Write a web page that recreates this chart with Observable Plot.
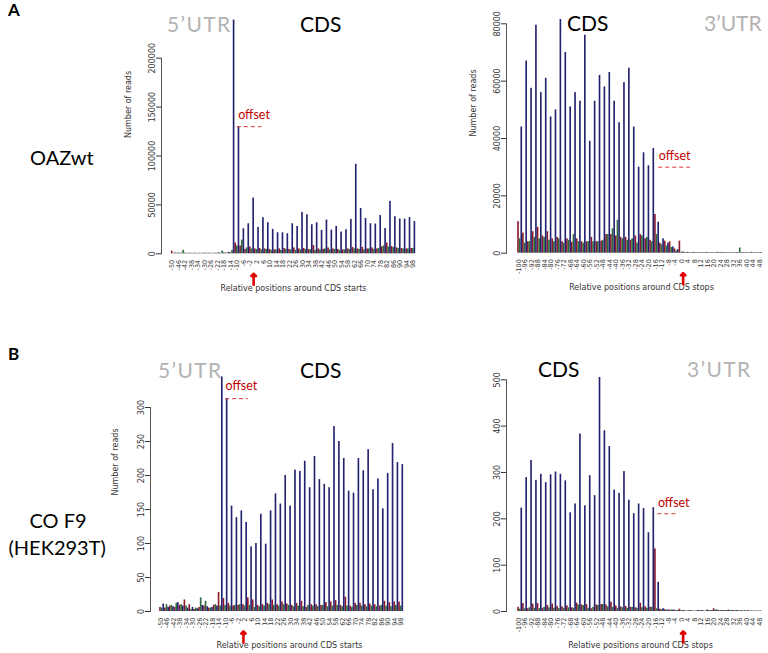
<!DOCTYPE html>
<html><head><meta charset="utf-8">
<script src="https://cdn.jsdelivr.net/npm/d3@7"></script>
<script src="https://cdn.jsdelivr.net/npm/@observablehq/plot@0.6"></script>
<style>
body{margin:0;background:#fff;}
#fig{position:relative;width:768px;height:653px;overflow:hidden;background:#fff;font-family:Lato,"Open Sans",sans-serif;}
.pan{position:absolute;}
.lbl{position:absolute;white-space:nowrap;line-height:1;}
</style></head><body><div id="fig"></div>
<script>
// ---------- tick labels ----------
const startTicks = [-50,-46,-42,-38,-34,-30,-26,-22,-18,-14,-10,-6,-2,2,6,10,14,18,22,26,30,34,38,42,46,50,54,58,62,66,70,74,78,82,86,90,94,98];
const stopTicks = [-100,-96,-92,-88,-84,-80,-76,-72,-68,-64,-60,-56,-52,-48,-44,-40,-36,-32,-28,-24,-20,-16,-12,-8,-4,0,4,8,12,16,20,24,28,32,36,40,44,48];
const oazStartYTicks = [0,50000,100000,150000,200000];
const oazStopYTicks = [0,20000,40000,60000,80000];
const cofStartYTicks = [0,50,100,150,200,250,300];
const cofStopYTicks = [0,100,200,300,400,500];

// first position of each window (frame 1 = first, frame 2 = second, frame 3 = third, repeating)
const startFirstPos = -50;
const stopFirstPos = -100;

// ---------- A: OAZwt, around CDS starts (-50..99) ----------
const oazStartRed = [2800,500,600,400,500,500,400,500,400,600,500,700,1000,11000,8000,4500,7000,5000,5500,5000,4500,4000,5000,5500,4500,6000,5000,5500,4500,8500,5000,4500,6000,5000,4500,4000,5000,6500,5000,6500,5000,6000,5000,7000,11000,7500,6000,5500,5000,5500];
const oazStartGreen = [500,800,3500,600,500,400,500,600,500,700,2800,800,3500,8000,14000,6000,5000,4500,4000,4500,3500,4000,3500,4500,4000,3500,4000,4500,4000,3500,4000,5000,4000,4500,3500,4000,4500,5000,4500,4000,5000,4500,5500,8000,7000,6500,5500,5000,5000,5500];
const oazStartBlue = [800,600,700,500,600,500,700,600,500,900,800,1500,239000,130000,25600,30700,57000,27000,36900,31700,24900,21500,21500,20500,30700,28000,42300,39900,29700,31700,23900,34500,24200,28000,22200,24600,35200,91500,46400,36200,30700,30400,39200,25900,53600,37900,35500,35500,37000,33000];

// ---------- A: OAZwt, around CDS stops (-100..49) ----------
const oazStopRed = [11000,7000,4000,7500,9000,6000,7500,5000,5500,4000,5000,3800,5000,4000,4000,5500,4000,4200,6500,6500,6000,5500,5500,4500,6000,6500,5000,4500,13500,3500,4200,4000,1500,4200,300,200,250,200,200,150,200,250,200,200,150,200,250,200,200,150];
const oazStopGreen = [5000,3500,4000,5500,5000,5500,4500,4000,5000,3500,4500,6500,4000,3500,4000,4000,4000,4500,6500,8500,11500,5000,4500,5000,3500,6000,5500,4000,6500,3000,2500,2000,800,300,200,150,200,200,250,200,150,200,200,200,200,1800,200,150,200,200];
const oazStopBlue = [44000,67000,57500,79500,56000,61000,47500,50000,81500,70000,51000,56000,53000,76000,39000,53000,62000,58000,63000,53000,45500,59500,64500,44000,30000,35000,30500,36500,10800,5000,3500,2200,1200,400,300,250,200,200,250,200,300,250,200,200,250,200,200,300,200,250];

// ---------- B: CO F9 (HEK293T), around CDS starts ----------
const cofStartRed = [6,5,8,6,9,17,10,3,6,8,5,9,28,19,12,8,9,10,20,17,9,10,12,17,10,14,11,9,12,15,6,10,10,9,13,14,16,9,21,8,12,12,10,11,10,8,15,13,14,14];
const cofStartGreen = [5,10,9,12,10,8,3,5,20,15,5,10,8,9,8,9,10,8,9,6,7,8,10,9,8,10,9,7,8,7,9,8,7,9,7,8,9,7,8,6,9,8,7,8,7,9,8,7,9,8];
const cofStartBlue = [11,6,7,13,8,5,6,4,9,7,6,8,345,313,155,138,148,131,95,100,143,99,148,173,158,200,155,208,206,221,182,228,194,187,182,272,250,225,177,174,225,207,238,179,195,151,203,247,219,216];

// ---------- B: CO F9 (HEK293T), around CDS stops ----------
const cofStopRed = [9,17,6,16,17,7,13,16,11,10,12,8,18,14,15,6,14,15,14,20,12,10,11,9,8,18,10,9,135,5,4,3,3,5,2,2,1,2,1,2,6,2,2,3,2,2,1,2,1,1];
const cofStopGreen = [5,6,8,7,6,9,8,7,6,7,8,7,14,13,7,9,13,15,10,9,7,8,7,9,7,8,7,9,6,4,3,3,2,2,1,2,1,2,1,2,3,2,2,2,2,1,2,1,1,1];
const cofStopBlue = [223,289,326,283,296,278,295,301,296,282,213,232,383,228,293,250,505,390,356,262,255,302,240,211,232,222,170,224,63,6,3,3,2,2,1,1,2,2,3,2,3,2,2,2,2,2,1,1,1,1];

// offset annotations: [dash value, dash from, dash to, label x, label y]
const oazStartOffset = [130000, -10, 5, -9.5, 142000];
const oazStopOffset = [30000, -14, 5.5, -14, 34000];
const cofStartOffset = [313, -10, 4, -10, 332];
const cofStopOffset = [211, -14.5, -2, -14.5, 235];
// red arrow positions
const arrowPos = {oazStart: 0, oazStop: 1, cofStart: 1, cofStop: 1};

const frameNames = ["frame 1","frame 2","frame 3"];
const frameColors = ["#8c1a2c","#2c6b3a","#22226f"];

function toBars(first, red, green, blue) {
  const out = [];
  [red, green, blue].forEach((arr, k) => {
    arr.forEach((v, i) => out.push({pos: first + 3 * i + k, value: v, frame: frameNames[k]}));
  });
  return out;
}

function panel(cfg) {
  const data = toBars(cfg.first, cfg.red, cfg.green, cfg.blue);
  const off = cfg.offset;
  const marks = [
    Plot.rect(data, {x1: d => d.pos - 0.5, x2: d => d.pos + 0.5, y1: () => 0, y2: "value", fill: "frame"}),
    Plot.frame({anchor: "left", stroke: "#555"}),
    Plot.axisY({ticks: cfg.yTicks, tickRotate: -90, tickSize: 5, tickPadding: 2, tickFormat: d => String(d), fontSize: 8, label: null, color: "#333"}),
    Plot.axisX({ticks: cfg.xTicks, tickRotate: -90, tickSize: 0, tickPadding: 6, tickFormat: d => String(d), fontSize: 6.5, label: null, color: "#333"}),
    Plot.text([cfg.xTitle], {frameAnchor: "bottom", dy: cfg.xTitleDy, fontSize: 8, fill: "#333"}),
    Plot.ruleY([{y: off[0], a: off[1], b: off[2]}], {y: "y", x1: "a", x2: "b", stroke: "#e03838", strokeDasharray: "4,3", strokeWidth: 1}),
    Plot.text([{x: off[3], y: off[4], t: "offset"}], {x: "x", y: "y", text: "t", textAnchor: "start", fill: "#c00000", fontSize: 12.5, fontFamily: "Lato"}),
    Plot.vector([{x: cfg.arrow}], {x: "x", y: () => 0, length: 11, rotate: 0, anchor: "start", stroke: "#e00000", strokeWidth: 2.6, dy: 31})
  ];
  if (cfg.yTitle) marks.push(Plot.text([cfg.yTitle], {frameAnchor: "left", rotate: -90, dx: -cfg.yTitleOffset, dy: cfg.yTitleDy, fontSize: 8, fill: "#333"}));
  return Plot.plot({
    width: cfg.width, height: cfg.height,
    marginLeft: cfg.ml, marginRight: cfg.mr, marginTop: cfg.mt, marginBottom: cfg.mb,
    x: {type: "linear", domain: [cfg.first, cfg.first + 149], range: cfg.xRange},
    y: {type: "linear", domain: [0, cfg.yTicks[cfg.yTicks.length - 1]]},
    color: {type: "ordinal", domain: frameNames, range: frameColors},
    style: {fontFamily: "'DejaVu Sans', sans-serif", background: "transparent", overflow: "visible"},
    marks
  });
}

const fig = document.getElementById("fig");
function place(node, left, top) {
  node.classList.add("pan");
  node.style.left = left + "px";
  node.style.top = top + "px";
  fig.appendChild(node);
}

place(panel({first: startFirstPos, red: oazStartRed, green: oazStartGreen, blue: oazStartBlue,
  xTicks: startTicks, yTicks: oazStartYTicks, width: 330, height: 300, ml: 61, mr: 5, mt: 57.7, mb: 46.7,
  xRange: [71.7, 314.4], xTitle: "Relative positions around CDS starts", xTitleDy: 37,
  yTitle: "Number of reads", yTitleOffset: 33, yTitleDy: -18,
  offset: oazStartOffset, arrow: arrowPos.oazStart}), 100, 0);

place(panel({first: stopFirstPos, red: oazStopRed, green: oazStopGreen, blue: oazStopBlue,
  xTicks: stopTicks, yTicks: oazStopYTicks, width: 330, height: 300, ml: 56, mr: 4, mt: 23.3, mb: 47.3,
  xRange: [68, 310.9], xTitle: "Relative positions around CDS stops", xTitleDy: 37,
  yTitle: "Number of reads", yTitleOffset: 33, yTitleDy: -2,
  offset: oazStopOffset, arrow: arrowPos.oazStop}), 450, 0);

place(panel({first: startFirstPos, red: cofStartRed, green: cofStartGreen, blue: cofStartBlue,
  xTicks: startTicks, yTicks: cofStartYTicks, width: 330, height: 323, ml: 50, mr: 2, mt: 77, mb: 42,
  xRange: [60, 302.3], xTitle: "Relative positions around CDS starts", xTitleDy: 36,
  yTitle: "Number of reads", yTitleOffset: 35, yTitleDy: -14,
  offset: cofStartOffset, arrow: arrowPos.cofStart}), 100, 330);

place(panel({first: stopFirstPos, red: cofStopRed, green: cofStopGreen, blue: cofStopBlue,
  xTicks: stopTicks, yTicks: cofStopYTicks, width: 330, height: 323, ml: 56, mr: 6, mt: 49.3, mb: 42,
  xRange: [68, 310.9], xTitle: "Relative positions around CDS stops", xTitleDy: 36,
  yTitle: null, offset: cofStopOffset, arrow: arrowPos.cofStop}), 450, 330);

// ---------- text annotations ----------
const annotations = [
  {t: "A", x: 8, base: 16, size: 17, weight: 700, color: "#000"},
  {t: "B", x: 8, base: 360, size: 17, weight: 700, color: "#000"},
  {t: "OAZwt", cx: 62, base: 165, size: 20, color: "#000"},
  {t: "CO F9", cx: 58, base: 528, size: 20, color: "#000"},
  {t: "(HEK293T)", cx: 57, base: 555, size: 20, color: "#000"},
  {t: "5\u2019UTR", x: 167, base: 31.5, size: 21, color: "#b3b3b3", ls: 1.4},
  {t: "CDS", x: 300, base: 31.5, size: 21, color: "#000"},
  {t: "CDS", x: 567, base: 30.5, size: 21, color: "#000"},
  {t: "3\u2019UTR", x: 704, base: 30.5, size: 21, color: "#b3b3b3"},
  {t: "5\u2019UTR", x: 158, base: 378, size: 21, color: "#b3b3b3", ls: 1.4},
  {t: "CDS", x: 300, base: 378, size: 21, color: "#000"},
  {t: "CDS", x: 538, base: 377, size: 21, color: "#000"},
  {t: "3\u2019UTR", x: 687, base: 377, size: 21, color: "#b3b3b3", ls: 1.4}
];
annotations.forEach(a => {
  const d = document.createElement("div");
  d.className = "lbl";
  d.textContent = a.t;
  d.style.fontSize = a.size + "px";
  d.style.fontWeight = a.weight || 400;
  d.style.color = a.color;
  if (a.ls) d.style.letterSpacing = a.ls + "px";
  d.style.top = (a.base - 0.887 * a.size) + "px";
  fig.appendChild(d);
  if (a.cx !== undefined) {
    d.style.left = (a.cx - d.offsetWidth / 2) + "px";
  } else {
    d.style.left = a.x + "px";
  }
});
</script></body></html>
